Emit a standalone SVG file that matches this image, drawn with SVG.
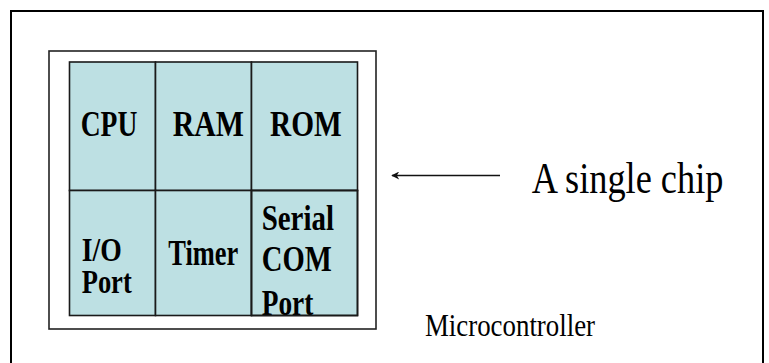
<svg xmlns="http://www.w3.org/2000/svg" width="769" height="363" viewBox="0 0 769 363">
  <style>
    .frame { fill: none; stroke: #000; stroke-width: 2; }
    .chip { fill: #fff; stroke: #222; stroke-width: 1.6; }
    .cell { fill: #bde0e3; stroke: #1a1a1a; stroke-width: 1.6; }
    text { font-family: "Times New Roman", Tinos, "Liberation Serif", "DejaVu Serif", "Noto Serif", serif; }
    .lbl { font-weight: bold; font-size: 28px; fill: #000; }
    .note { fill: #000; }
    .conn { stroke: #111; stroke-width: 1.6; fill: none; }
  </style>
  <defs>
    <marker id="head" viewBox="0 0 10 10" refX="9" refY="5" markerWidth="12" markerHeight="8" markerUnits="userSpaceOnUse" orient="auto">
      <path d="M10,5 L0,0 L3,5 L0,10 Z" fill="#111"/>
    </marker>
  </defs>

  <!-- outer page frame (bottom edge runs off the canvas) -->
  <rect class="frame" x="11" y="11" width="752" height="360"/>

  <!-- chip package -->
  <g id="chip">
    <rect class="chip" x="49" y="51" width="327" height="278"/>
  </g>

  <!-- on-chip blocks -->
  <g id="cpu">
    <rect class="cell" x="69.5" y="62" width="86" height="128.5"/>
    <text class="lbl" font-family="Liberation Serif" transform="translate(80.7 136) scale(1 1.25)" textLength="56.6" lengthAdjust="spacingAndGlyphs">CPU</text>
  </g>
  <g id="ram">
    <rect class="cell" x="155.5" y="62" width="96" height="128.5"/>
    <text class="lbl" transform="translate(172.7 136) scale(1 1.25)" textLength="71.3" lengthAdjust="spacingAndGlyphs">RAM</text>
  </g>
  <g id="rom">
    <rect class="cell" x="251.5" y="62" width="106" height="128.5"/>
    <text class="lbl" transform="translate(270 136) scale(1 1.25)" textLength="71.7" lengthAdjust="spacingAndGlyphs">ROM</text>
  </g>
  <g id="io-port">
    <rect class="cell" x="69.5" y="190.5" width="86" height="125"/>
    <text class="lbl" transform="translate(81.7 260.5) scale(1 1.2)" textLength="40" lengthAdjust="spacingAndGlyphs">I/O</text>
    <text class="lbl" transform="translate(81.7 293.3) scale(1 1.2)" textLength="50" lengthAdjust="spacingAndGlyphs">Port</text>
  </g>
  <g id="timer">
    <rect class="cell" x="155.5" y="190.5" width="96" height="125"/>
    <text class="lbl" transform="translate(168.3 265) scale(1 1.25)" textLength="70" lengthAdjust="spacingAndGlyphs">Timer</text>
  </g>
  <g id="serial-com-port">
    <clipPath id="serialClip"><rect x="251.5" y="190.5" width="106" height="125"/></clipPath>
    <rect class="cell" x="251.5" y="190.5" width="106" height="125"/>
    <g clip-path="url(#serialClip)">
      <text class="lbl" transform="translate(261.7 230) scale(1 1.25)" textLength="72.3" lengthAdjust="spacingAndGlyphs">Serial</text>
      <text class="lbl" transform="translate(261.7 270.5) scale(1 1.25)" textLength="70" lengthAdjust="spacingAndGlyphs">COM</text>
      <text class="lbl" transform="translate(261.7 315) scale(1 1.25)" textLength="51.6" lengthAdjust="spacingAndGlyphs">Port</text>
    </g>
    <rect x="251.5" y="190.5" width="106" height="125" fill="none" stroke="#1a1a1a" stroke-width="1.6"/>
  </g>

  <!-- annotations -->
  <g id="single-chip-label">
    <text class="note" font-size="36" transform="translate(531.7 192.7) scale(1 1.25)" textLength="191.7" lengthAdjust="spacingAndGlyphs">A single chip</text>
  </g>
  <g id="microcontroller-label">
    <text class="note" font-size="26" transform="translate(425 336) scale(1 1.25)" textLength="170" lengthAdjust="spacingAndGlyphs">Microcontroller</text>
  </g>

  <!-- connectors -->
  <g id="connectors">
    <line class="conn" x1="500" y1="175.5" x2="392" y2="175.5" marker-end="url(#head)"/>
  </g>
</svg>
